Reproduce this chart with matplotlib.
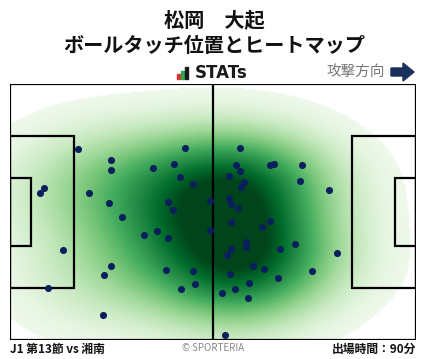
import numpy as np
import matplotlib.pyplot as plt
from matplotlib.patches import Rectangle, Polygon

plt.rcParams['font.family'] = ['Noto Sans CJK JP', 'DejaVu Sans']

# Texts
player = "松岡　大起"
title = "ボールタッチ位置とヒートマップ"
match_label = "J1 第13節 vs 湘南"
minutes_label = "出場時間：90分"
direction_label = "攻撃方向"

# Pitch size (m)
pitch_len = 105
pitch_wid = 68

# Ball touch positions (x: own goal -> opponent goal, y: bottom -> top)
touch_x = [17.7, 26.2, 26.2, 8.9, 7.8, 20.5, 37.1, 42.5, 45.3, 44.0,
           47.4, 40.9, 42.2, 25.7, 51.7, 29.0, 59.4, 58.5, 59.6, 56.7,
           60.6, 59.8, 67.3, 68.4, 75.6, 75.1, 82.6, 56.7, 57.2, 59.0,
           34.7, 38.1, 40.9, 51.7, 13.8, 26.2, 24.4, 9.9, 40.4, 47.4,
           47.9, 44.3, 24.1, 57.2, 67.3, 65.2, 61.1, 61.1, 57.2, 56.2,
           69.7, 73.8, 84.6, 62.9, 65.8, 57.0, 69.4, 78.2, 61.9, 58.3,
           54.9, 61.6, 55.7]
touch_y = [50.7, 47.7, 45.1, 40.3, 39.0, 39.0, 45.6, 46.7, 50.9, 43.2,
           41.4, 36.6, 34.5, 36.3, 36.8, 32.6, 50.9, 46.4, 44.8, 43.5,
           41.9, 40.6, 46.4, 46.7, 46.4, 42.2, 39.8, 37.6, 36.0, 35.0,
           27.8, 28.9, 27.2, 29.1, 23.8, 19.6, 17.2, 13.7, 18.5, 18.2,
           14.8, 13.5, 6.6, 31.3, 31.5, 29.9, 26.0, 24.6, 24.1, 22.5,
           24.1, 25.4, 23.0, 19.6, 18.8, 17.5, 16.4, 18.2, 15.1, 13.5,
           12.4, 11.1, 1.2]

# Gaussian KDE (Scott's rule, full covariance, widened)
pts = np.vstack([touch_x, touch_y])
n = pts.shape[1]
factor = n ** (-1.0 / 6) * 1.5
cov = np.cov(pts) * factor ** 2
inv_cov = np.linalg.inv(cov)

gx, gy = np.meshgrid(np.linspace(0, pitch_len, 300), np.linspace(0, pitch_wid, 200))
grid = np.vstack([gx.ravel(), gy.ravel()])
dens = np.zeros(grid.shape[1])
for i in range(n):
    d = grid - pts[:, i:i + 1]
    dens += np.exp(-0.5 * np.sum(d * (inv_cov @ d), axis=0))
dens = dens.reshape(gx.shape)
dens = dens / dens.max()

rgba = plt.get_cmap('Greens')(np.clip(dens / 0.88, 0, 1))
rgba[dens < 0.05] = [1, 1, 1, 1]

fig = plt.figure(figsize=(4.28, 3.59), dpi=100)
ax = fig.add_axes([10 / 428, 19 / 359, 406 / 428, 256 / 359])

ax.imshow(rgba, origin='lower', extent=[0, pitch_len, 0, pitch_wid],
          aspect='auto', interpolation='bilinear', zorder=1)

# Pitch lines
lc = 'black'
lw = 1.6
ax.add_patch(Rectangle((0, 0), pitch_len, pitch_wid, fill=False, ec=lc, lw=lw, zorder=3))
ax.plot([pitch_len / 2, pitch_len / 2], [0, pitch_wid], color=lc, lw=lw, zorder=3)
for x0, w in [(0, 16.5), (pitch_len - 16.5, 16.5)]:
    ax.add_patch(Rectangle((x0, (pitch_wid - 40.32) / 2), w, 40.32, fill=False, ec=lc, lw=lw, zorder=3))
for x0, w in [(0, 5.5), (pitch_len - 5.5, 5.5)]:
    ax.add_patch(Rectangle((x0, (pitch_wid - 18.32) / 2), w, 18.32, fill=False, ec=lc, lw=lw, zorder=3))

ax.scatter(touch_x, touch_y, s=26, color='#0a1f5c', zorder=4, linewidths=0)
ax.set_xlim(0, pitch_len)
ax.set_ylim(0, pitch_wid)
ax.axis('off')

# Header / footer in pixel coordinates
ov = fig.add_axes([0, 0, 1, 1])
ov.set_xlim(0, 428)
ov.set_ylim(359, 0)
ov.axis('off')
ov.patch.set_alpha(0)

ov.text(214, 20, player, ha='center', va='center', fontsize=14.5, fontweight='bold', color='#111111')
ov.text(214, 45, title, ha='center', va='center', fontsize=14.5, fontweight='bold', color='#111111')

# STATs logo
ov.add_patch(Rectangle((177, 74), 3, 5, color='#e0302a'))
ov.add_patch(Rectangle((181, 71), 3, 8, color='#2da84a'))
ov.add_patch(Rectangle((185, 67), 3.5, 12, color='#1a1a1a'))
ov.text(195, 73.5, "STATs", ha='left', va='center', fontsize=12, fontweight='bold', color='#1a1a1a',
        family='DejaVu Sans')

ov.text(385, 72, direction_label, ha='right', va='center', fontsize=10.5, color='#777777')
ov.add_patch(Polygon([(391, 68), (403, 68), (403, 63), (414, 72), (403, 81), (403, 76), (391, 76)],
                     closed=True, color='#1a2f5e'))

ov.text(10, 349, match_label, ha='left', va='center', fontsize=8.5, fontweight='bold', color='#111111')
ov.text(213, 348, "© SPORTERIA", ha='center', va='center', fontsize=7, color='#888888')
ov.text(416, 349, minutes_label, ha='right', va='center', fontsize=8.5, fontweight='bold', color='#111111')

fig.savefig('out.png', dpi=100)
